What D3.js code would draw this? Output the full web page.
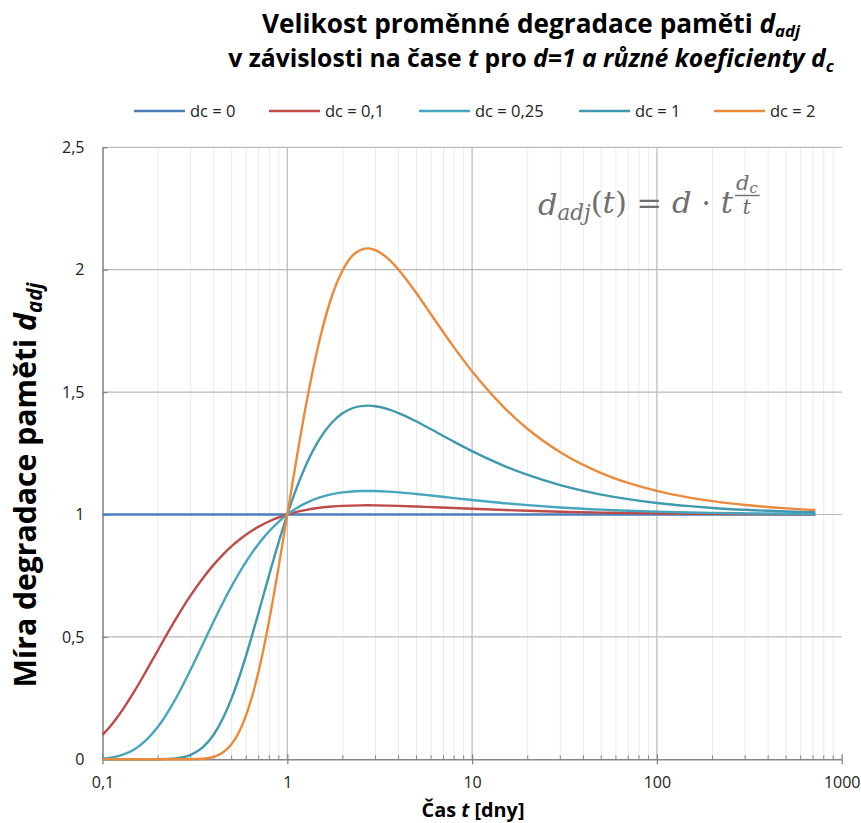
<!DOCTYPE html>
<html><head><meta charset="utf-8">
<script src="https://cdn.jsdelivr.net/npm/d3@7"></script>
<style>
body{margin:0;background:#fff;}
svg{display:block;font-family:"Open Sans",Lato,sans-serif;}
</style></head>
<body><svg id="chart" width="861" height="823"></svg>
<script>
// ---- data ----
const tValues = [0.1,0.11,0.12,0.13,0.15,0.17,0.2,0.25,0.3,0.35,0.4,0.45,0.5,0.55,0.6,0.65,0.7,0.75,0.8,0.9,0.95,1,1.1,1.25,1.5,1.75,2,2.5,2.75,3,3.5,4,5,6,8,10,15,20,30,50,70,100,150,200,300,500,720];
const dc0   = [1,1,1,1,1,1,1,1,1,1,1,1,1,1,1,1,1,1,1,1,1,1,1,1,1,1,1,1,1,1,1,1,1,1,1,1,1,1,1,1,1,1,1,1,1,1,1];
const dc01  = [0.1,0.1344,0.1709,0.2082,0.2823,0.3526,0.4472,0.5743,0.6694,0.7408,0.7953,0.8374,0.8706,0.8970,0.9184,0.9359,0.9503,0.9624,0.9725,0.9884,0.9946,1,1.0087,1.0180,1.0274,1.0325,1.0353,1.0373,1.0375,1.0373,1.0364,1.0353,1.0327,1.0303,1.0263,1.0233,1.0182,1.0151,1.0114,1.0078,1.0061,1.0046,1.0033,1.0027,1.0019,1.0012,1.0009];
const dc025 = [0.0032,0.0066,0.0121,0.0198,0.0423,0.0738,0.1337,0.25,0.3666,0.4724,0.5640,0.6417,0.7071,0.7621,0.8083,0.8473,0.8804,0.9086,0.9326,0.9712,0.9866,1,1.0219,1.0456,1.0699,1.0832,1.0905,1.0960,1.0962,1.0959,1.0936,1.0905,1.0838,1.0775,1.0671,1.0593,1.0462,1.0382,1.0287,1.0198,1.0153,1.0116,1.0084,1.0066,1.0048,1.0031,1.0023];
const dc1   = [0,0,0,0,0,0,0.0003,0.0039,0.0181,0.0498,0.1012,0.1696,0.25,0.3372,0.4268,0.5154,0.6008,0.6814,0.7566,0.8895,0.9474,1,1.0905,1.1954,1.3104,1.3768,1.4142,1.4427,1.4446,1.4422,1.4304,1.4142,1.3797,1.3480,1.2968,1.2589,1.1978,1.1616,1.1200,1.0814,1.0626,1.0471,1.0340,1.0268,1.0192,1.0125,1.0092];
const dc2   = [0,0,0,0,0,0,0,0,0.0003,0.0025,0.0102,0.0288,0.0625,0.1137,0.1822,0.2657,0.3609,0.4643,0.5724,0.7912,0.8976,1,1.1892,1.4291,1.7171,1.8956,2.0,2.0814,2.0870,2.0801,2.0460,2.0,1.9037,1.8172,1.6818,1.5849,1.4349,1.3493,1.2545,1.1694,1.1291,1.0965,1.0691,1.0544,1.0388,1.0252,1.0184];
const seriesNames = ["dc = 0","dc = 0,1","dc = 0,25","dc = 1","dc = 2"];
const seriesValues = [dc0, dc01, dc025, dc1, dc2];
const seriesColors = ["#4A7EBB","#BE4B48","#46A6BF","#4199B0","#EC8A3B"];
const xTickValues = [0.1,1,10,100,1000];
const xTickLabels = ["0,1","1","10","100","1000"];
const yTickValues = [0,0.5,1,1.5,2,2.5];
const yTickLabels = ["0","0,5","1","1,5","2","2,5"];

// ---- helpers ----
function fit(sel, target){
  const w = sel.node().getComputedTextLength();
  const fs = parseFloat(sel.attr("font-size"));
  const nfs = fs*target/w;
  sel.attr("font-size", nfs.toFixed(2)+"px");
  return nfs;
}

// ---- layout ----
const svg = d3.select("#chart");
const L = 102.5, R = 841.7, T = 147.3, B = 759.3;
const x = d3.scaleLog().domain([0.1,1000]).range([L,R]);
const y = d3.scaleLinear().domain([0,2.5]).range([B,T]);

// minor vertical gridlines
const minor = [];
[0.1,1,10,100].forEach(p => { for (let k=2;k<=9;k++) minor.push(p*k); });
svg.append("g").selectAll("line").data(minor).join("line")
  .attr("x1",d=>x(d)).attr("x2",d=>x(d)).attr("y1",T).attr("y2",B)
  .attr("stroke","#ebebeb").attr("stroke-width",1);
// major vertical gridlines
svg.append("g").selectAll("line").data([1,10,100]).join("line")
  .attr("x1",d=>x(d)).attr("x2",d=>x(d)).attr("y1",T).attr("y2",B)
  .attr("stroke","#b9b9b9").attr("stroke-width",1.2);
// horizontal gridlines
svg.append("g").selectAll("line").data(yTickValues.slice(1)).join("line")
  .attr("x1",L).attr("x2",R).attr("y1",d=>y(d)).attr("y2",d=>y(d))
  .attr("stroke","#b9b9b9").attr("stroke-width",1.2);

// axes
const xAxis = d3.axisBottom(x).tickValues(xTickValues).tickFormat((d,i)=>xTickLabels[i]).tickSize(5).tickSizeOuter(0);
const gx = svg.append("g").attr("transform",`translate(0,${B})`).call(xAxis);
gx.select(".domain").attr("stroke","#868686").attr("stroke-width",1.6);
gx.selectAll(".tick line").attr("stroke","#868686").attr("stroke-width",1.3).attr("y1",-5).attr("y2",5);
gx.selectAll(".tick text").attr("fill","#222").attr("font-size","16px").attr("font-family","'Open Sans', sans-serif").attr("y",17).attr("dy","0.71em");
// minor ticks
svg.append("g").selectAll("line").data(minor).join("line")
  .attr("x1",d=>x(d)).attr("x2",d=>x(d)).attr("y1",B-4).attr("y2",B)
  .attr("stroke","#868686").attr("stroke-width",1);

const yAxis = d3.axisLeft(y).tickValues(yTickValues).tickFormat((d,i)=>yTickLabels[i]).tickSize(0).tickSizeOuter(0).tickPadding(18);
const gy = svg.append("g").attr("transform",`translate(${L},0)`).call(yAxis);
gy.select(".domain").attr("stroke","#868686").attr("stroke-width",1.6);
gy.selectAll(".tick line").attr("stroke","#868686").attr("stroke-width",1.3).attr("x1",0).attr("x2",5);
gy.selectAll(".tick text").attr("fill","#222").attr("font-size","16px").attr("font-family","'Open Sans', sans-serif");

// series
const line = d3.line().x(d=>x(d[0])).y(d=>y(d[1])).curve(d3.curveMonotoneX);
seriesValues.forEach((vals,i) => {
  svg.append("path").datum(tValues.map((t,j)=>[t,vals[j]]))
    .attr("d",line).attr("fill","none").attr("stroke",seriesColors[i])
    .attr("stroke-width",2.4).attr("stroke-linejoin","round");
});

// legend
const legendStarts = [134, 269, 419, 579, 714];
const lg = svg.append("g").attr("font-size","16.5px").attr("fill","#222");
seriesNames.forEach((name,i) => {
  const lx = legendStarts[i];
  lg.append("line").attr("x1",lx).attr("x2",lx+51).attr("y1",111).attr("y2",111)
    .attr("stroke",seriesColors[i]).attr("stroke-width",2.4);
  lg.append("text").attr("x",lx+56).attr("y",117).text(name);
});

// title
const t1 = svg.append("text").attr("x",531).attr("y",33).attr("text-anchor","middle")
  .attr("font-weight","bold").attr("font-size","24px").attr("fill","#000");
t1.append("tspan").text("Velikost proměnné degradace paměti ");
t1.append("tspan").attr("font-style","italic").text("d");
t1.append("tspan").attr("font-style","italic").attr("font-size","0.64em").attr("dy","0.22em").text("adj");
fit(t1, 538);
const t2 = svg.append("text").attr("x",531).attr("y",67).attr("text-anchor","middle")
  .attr("font-weight","bold").attr("font-size","24px").attr("fill","#000");
t2.append("tspan").text("v závislosti na čase ");
t2.append("tspan").attr("font-style","italic").text("t");
t2.append("tspan").text(" pro ");
t2.append("tspan").attr("font-style","italic").text("d=1 a různé koeficienty d");
t2.append("tspan").attr("font-style","italic").attr("font-size","0.68em").attr("dy","0.3em").text("c");
fit(t2, 606);

// axis titles
const yl = svg.append("text").attr("text-anchor","middle").attr("font-weight","bold")
  .attr("font-size","26px").attr("fill","#000");
yl.append("tspan").text("Míra degradace paměti ");
yl.append("tspan").attr("font-style","italic").text("d");
yl.append("tspan").attr("font-style","italic").attr("font-size","0.68em").attr("dy","0.3em").text("adj");
const yfs = fit(yl, 405);
yl.attr("transform",`translate(${(12 + 0.8*yfs).toFixed(1)},485) rotate(-90)`);

const xl = svg.append("text").attr("x",473).attr("y",817)
  .attr("text-anchor","middle").attr("font-weight","bold").attr("font-size","20px").attr("fill","#000");
xl.append("tspan").text("Čas ");
xl.append("tspan").attr("font-style","italic").text("t");
xl.append("tspan").text(" [dny]");
fit(xl, 103);

// formula annotation
const fg = svg.append("g").attr("fill","#6f6f6f").attr("font-family","'DejaVu Serif', serif").attr("font-style","italic");
const f1 = fg.append("text").attr("x",538).attr("y",215).attr("font-size","28px");
f1.append("tspan").text("d");
f1.append("tspan").attr("font-size","0.7em").attr("dy","0.22em").text("adj");
f1.append("tspan").attr("dy","-0.22em").attr("font-style","normal").text("(");
f1.append("tspan").text("t");
f1.append("tspan").attr("font-style","normal").text(") = ");
f1.append("tspan").text("d");
f1.append("tspan").attr("font-style","normal").text(" · ");
f1.append("tspan").text("t");
fit(f1, 195);
const fx = 736;
const num = fg.append("text").attr("x",fx).attr("y",190).attr("font-size","21px");
num.append("tspan").text("d");
num.append("tspan").attr("font-size","0.7em").attr("dy","0.2em").text("c");
const nw = num.node().getComputedTextLength();
fg.append("line").attr("x1",fx-1).attr("x2",fx+nw+2).attr("y1",195.5).attr("y2",195.5).attr("stroke","#6f6f6f").attr("stroke-width",1.4);
fg.append("text").attr("x",fx+nw/2).attr("y",214).attr("font-size","21px").attr("text-anchor","middle").text("t");
</script></body></html>
